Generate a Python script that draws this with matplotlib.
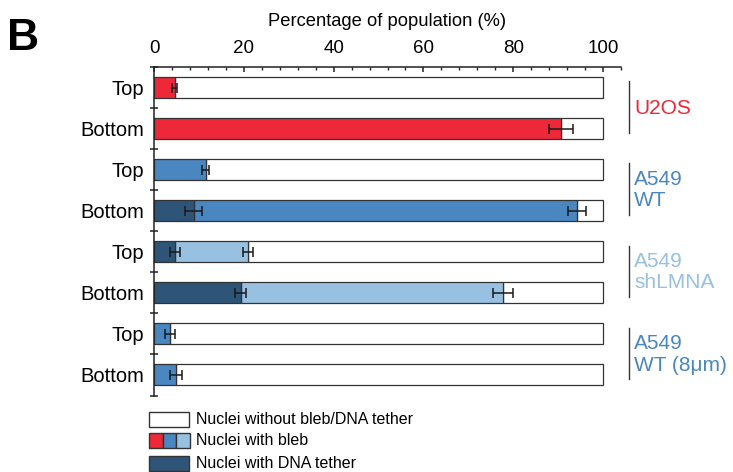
import numpy as np
import matplotlib.pyplot as plt
from matplotlib.patches import Rectangle
from matplotlib.ticker import MultipleLocator

plt.rcParams['font.family'] = ['Liberation Sans', 'DejaVu Sans']

# rows, top to bottom
row_labels = ['Top', 'Bottom', 'Top', 'Bottom', 'Top', 'Bottom', 'Top', 'Bottom']
cell_lines = ['U2OS', 'A549\nWT', 'A549\nshLMNA', 'A549\nWT (8μm)']

# % nuclei with DNA tether
tether = [0, 0, 0, 8.8, 4.6, 19.3, 0, 0]
tether_err = [0, 0, 0, 2.0, 1.1, 1.2, 0, 0]
# % nuclei with bleb (stacked after the tether segment)
bleb = [4.6, 90.6, 11.5, 85.4, 16.4, 58.4, 3.6, 4.9]
bleb_err = [0.6, 2.7, 0.7, 2.0, 1.1, 2.15, 1.1, 1.3]

RED = '#EC2839'
BLUE = '#4A86BF'
LIGHT = '#98C0E1'
DARK = '#2E5578'
EDGE = '#333333'
bleb_colors = [RED, RED, BLUE, BLUE, LIGHT, LIGHT, BLUE, BLUE]
line_colors = [RED, BLUE, LIGHT, BLUE]

W, H = 733, 472
fig = plt.figure(figsize=(W / 100, H / 100), dpi=100)
ax = fig.add_axes([154 / W, 1 - 395.5 / H, (621 - 154) / W, (395.5 - 67) / H])

y = np.arange(len(row_labels))
tether = np.array(tether)
bleb = np.array(bleb)
cum = tether + bleb

bar_kw = dict(height=0.51, edgecolor=EDGE, linewidth=0.9)
ax.barh(y, 100 - cum, left=cum, color='white', **bar_kw)
ax.barh(y, bleb, left=tether, color=bleb_colors, **bar_kw)
has_t = tether > 0
ax.barh(y[has_t], tether[has_t], color=DARK, **bar_kw)

err_kw = dict(fmt='none', ecolor='#1a1a1a', elinewidth=1.1, capsize=3.3, capthick=1.1)
ax.errorbar(cum, y, xerr=bleb_err, **err_kw)
ax.errorbar(tether[has_t], y[has_t], xerr=np.array(tether_err)[has_t], **err_kw)

ax.set_xlim(0, 104)
ax.set_ylim(len(y) - 0.5, -0.5)

for s in ['right', 'bottom']:
    ax.spines[s].set_visible(False)
for s in ['top', 'left']:
    ax.spines[s].set_linewidth(1.1)
    ax.spines[s].set_color('#222222')

ax.xaxis.tick_top()
ax.set_xticks(range(0, 101, 20))
ax.xaxis.set_minor_locator(MultipleLocator(4))
ax.tick_params(axis='x', which='major', direction='in', length=3.8, width=1.1,
               pad=7, labelsize=13.5, color='#222222')
ax.tick_params(axis='x', which='minor', direction='in', length=2.3, width=1.0,
               color='#222222')
ax.xaxis.set_label_position('top')
ax.set_xlabel('Percentage of population (%)', fontsize=13.2, labelpad=10)

ax.set_yticks(y)
ax.set_yticklabels(row_labels)
ax.set_yticks(np.arange(-0.5, len(y)), minor=True)
ax.tick_params(axis='y', which='major', length=0, pad=7, labelsize=14.5)
ax.tick_params(axis='y', which='minor', direction='inout', length=5.5, width=1.1,
               color='#222222')

# cell line brackets on the right
for i, (name, c) in enumerate(zip(cell_lines, line_colors)):
    r0, r1 = 2 * i, 2 * i + 1
    ax.plot([105.8, 105.8], [r0 - 0.15, r1 + 0.1], color='#333333', lw=1.0,
            clip_on=False)
    ax.text(106.9, (r0 + r1) / 2, name, color=c, fontsize=15, ha='left',
            va='center', linespacing=1.15, clip_on=False)

fig.text(7 / W, 1 - 38 / H, 'B', fontsize=32, fontweight='bold', va='center')


# legend drawn in figure pixels
def box(x, yt, w, h, fc):
    fig.add_artist(Rectangle((x / W, 1 - (yt + h) / H), w / W, h / H,
                             facecolor=fc, edgecolor=EDGE, linewidth=1.0,
                             transform=fig.transFigure))


box(149, 411.5, 40, 15, 'white')
box(149, 432.5, 13.5, 15, RED)
box(162.5, 432.5, 13.5, 15, BLUE)
box(176, 432.5, 13.5, 15, LIGHT)
box(149, 455.5, 40, 15, DARK)
legend_text = ['Nuclei without bleb/DNA tether', 'Nuclei with bleb', 'Nuclei with DNA tether']
for txt, yc in zip(legend_text, [419, 440.5, 463.5]):
    fig.text(196 / W, 1 - yc / H, txt, fontsize=11.5, va='center')

fig.savefig('out.png', dpi=100)
